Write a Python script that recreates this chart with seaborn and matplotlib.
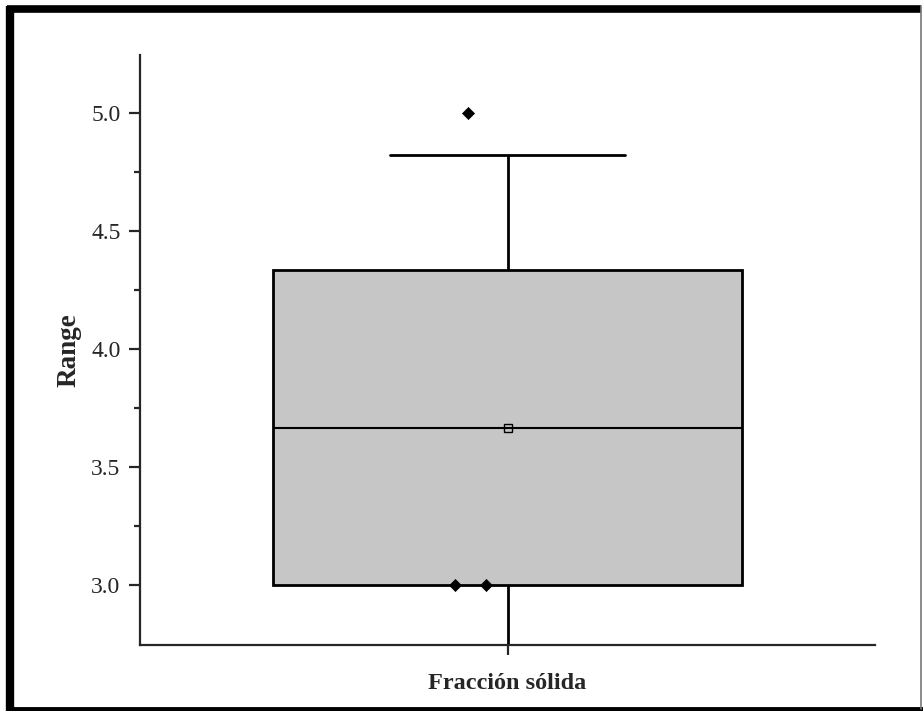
import numpy as np
import matplotlib
matplotlib.use("Agg")
import matplotlib.pyplot as plt
import seaborn as sns
from matplotlib.lines import Line2D

# raw values (the diamonds)
values = [5.0, 3.0, 3.0]
jitter = [-0.054, -0.071, -0.029]
group = "Fracción sólida"

# Origin-style box: mean +/- SE box, mean +/- SD whiskers
mean = np.mean(values)
sd = np.std(values, ddof=1)
se = sd / np.sqrt(len(values))
box_vals = [mean - sd, mean - se, mean, mean + se, mean + sd]

sns.set_style("ticks")
plt.rcParams['font.family'] = ['Liberation Serif', 'DejaVu Serif']

fig = plt.figure(figsize=(9.23, 7.11), dpi=100)
ax = fig.add_axes([0.1517, 0.0928, 0.7963, 0.8298])

sns.boxplot(y=box_vals, ax=ax, width=0.638, whis=(0, 100), showfliers=False,
            color="#c6c6c6", saturation=1, linecolor="black", linewidth=2,
            medianprops=dict(linewidth=1.5), zorder=1)

sns.scatterplot(x=jitter, y=values, marker="D", color="black", s=38,
                edgecolor="black", ax=ax, zorder=4, clip_on=False)
ax.plot([0], [mean], marker="s", mfc="none", mec="black", ms=6, mew=1, zorder=5)

ax.set_xlim(-0.5, 0.5)
ax.set_ylim(2.746, 5.246)
ax.set_yticks([3.0, 3.5, 4.0, 4.5, 5.0])
ax.set_yticks(np.arange(3.25, 5.0, 0.5), minor=True)
ax.set_yticklabels(["3.0", "3.5", "4.0", "4.5", "5.0"])
ax.set_xticks([0])
ax.set_xticklabels([""])

ax.set_xlabel(group, fontsize=17.5, fontweight="bold", labelpad=9)
ax.set_ylabel("Range", fontsize=19.5, fontweight="bold", labelpad=7)

sns.despine(ax=ax)
for side in ["left", "bottom"]:
    ax.spines[side].set_linewidth(1.6)
ax.tick_params(axis="y", which="major", length=8, width=1.6, labelsize=17, direction="out", pad=6)
ax.tick_params(axis="y", which="minor", length=4, width=1.6, direction="out")
ax.tick_params(axis="x", which="major", length=7.5, width=1.6, direction="out")
ax.set_facecolor("white")

# frame around the figure
frame = dict(color="black", transform=fig.transFigure, solid_capstyle="butt")
fig.add_artist(Line2D([10 / 923, 10 / 923], [0, 705 / 711], lw=6, **frame))
fig.add_artist(Line2D([7 / 923, 921 / 923], [702.5 / 711, 702.5 / 711], lw=5.5, **frame))
fig.add_artist(Line2D([7 / 923, 1], [2 / 711, 2 / 711], lw=3.5, **frame))
fig.add_artist(Line2D([921 / 923, 921 / 923], [2 / 711, 705 / 711], lw=1.2, color="#777777",
                      transform=fig.transFigure))

fig.savefig("out.png", dpi=100)
